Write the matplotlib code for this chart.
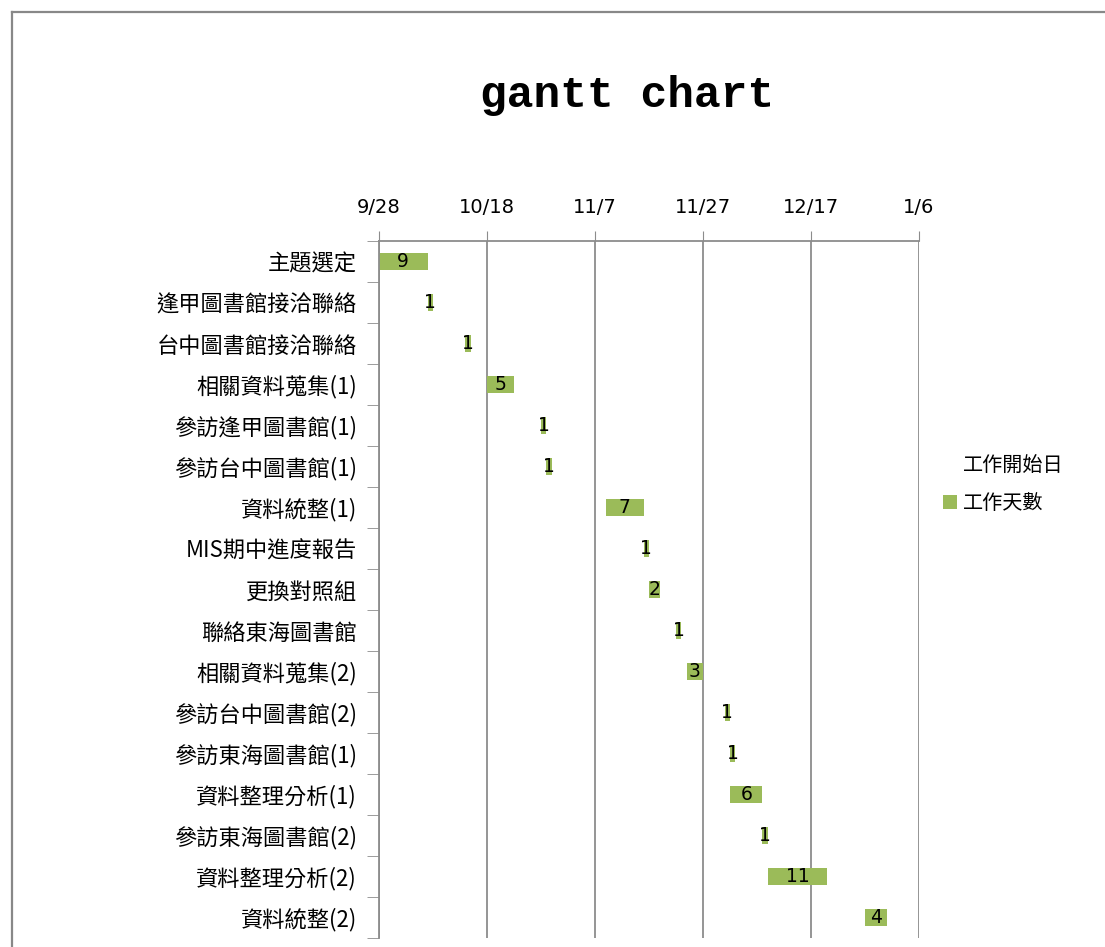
import datetime
import matplotlib
matplotlib.use('Agg')
import matplotlib.pyplot as plt
import matplotlib.dates as mdates
from matplotlib.patches import Patch
from matplotlib.lines import Line2D

plt.rcParams['font.family'] = ['Noto Sans CJK TC', 'DejaVu Sans']

# data
tasks = ['主題選定', '逢甲圖書館接洽聯絡', '台中圖書館接洽聯絡', '相關資料蒐集(1)',
         '參訪逢甲圖書館(1)', '參訪台中圖書館(1)', '資料統整(1)', 'MIS期中進度報告',
         '更換對照組', '聯絡東海圖書館', '相關資料蒐集(2)', '參訪台中圖書館(2)',
         '參訪東海圖書館(1)', '資料整理分析(1)', '參訪東海圖書館(2)', '資料整理分析(2)',
         '資料統整(2)']
start_days = ['2010-09-28', '2010-10-07', '2010-10-14', '2010-10-18',
              '2010-10-28', '2010-10-29', '2010-11-09', '2010-11-16',
              '2010-11-17', '2010-11-22', '2010-11-24', '2010-12-01',
              '2010-12-02', '2010-12-02', '2010-12-08', '2010-12-09',
              '2010-12-27']
work_days = [9, 1, 1, 5, 1, 1, 7, 1, 2, 1, 3, 1, 1, 6, 1, 11, 4]
tick_days = ['2010-09-28', '2010-10-18', '2010-11-07', '2010-11-27',
             '2010-12-17', '2011-01-06']

green = '#9bbb59'
gridc = '#8c8c8c'

starts = [mdates.date2num(datetime.date.fromisoformat(d)) for d in start_days]
ticks = [mdates.date2num(datetime.date.fromisoformat(d)) for d in tick_days]

fig = plt.figure(figsize=(11.05, 9.47), dpi=100)
ax = fig.add_axes([379 / 1105, 1 - 938 / 947, (919 - 379) / 1105, (938 - 241) / 947])

y = list(range(len(tasks)))
ax.barh(y, starts, height=0.4, color='none')   # invisible start-date series
bars = ax.barh(y, work_days, left=starts, height=0.4, color=green)
ax.bar_label(bars, label_type='center', fontsize=13.5, color='black', family='DejaVu Sans')

ax.set_xlim(ticks[0], ticks[-1])
ax.set_ylim(len(tasks) - 0.5, -0.5)
ax.xaxis.tick_top()
ax.set_xticks(ticks)
ax.set_xticklabels([f'{int(d[5:7])}/{int(d[8:])}' for d in tick_days],
                   fontsize=14, family='DejaVu Sans')
ax.tick_params(axis='x', direction='out', length=7, color=gridc, pad=10)

ax.set_yticks(y)
ax.set_yticklabels(tasks, fontsize=16)
ax.set_yticks([i - 0.5 for i in range(len(tasks) + 1)], minor=True)
ax.tick_params(axis='y', which='major', length=0, pad=16)
ax.tick_params(axis='y', which='minor', direction='out', length=9, color=gridc)

ax.grid(axis='x', color=gridc, linewidth=1.3)
ax.set_axisbelow(True)
for s in ['right', 'bottom']:
    ax.spines[s].set_visible(False)
for s in ['top', 'left']:
    ax.spines[s].set_color(gridc)
    ax.spines[s].set_linewidth(1.3)

fig.text(627 / 1105, 1 - 95 / 947, 'gantt chart', ha='center', va='center',
         fontsize=32, fontweight='bold', family='Liberation Mono')

handles = [Patch(facecolor='none', edgecolor='none'), Patch(facecolor=green)]
fig.legend(handles, ['工作開始日', '工作天數'], loc='upper left',
           bbox_to_anchor=(925 / 1105, 1 - 437 / 947), frameon=False, fontsize=14.5,
           handlelength=0.7, handleheight=0.7, handletextpad=0.3, labelspacing=0.85)

# outer chart frame
fig.add_artist(Line2D([12 / 1105, 1], [1 - 12 / 947, 1 - 12 / 947], color='#888888', lw=1.6))
fig.add_artist(Line2D([12 / 1105, 12 / 1105], [0, 1 - 12 / 947], color='#888888', lw=1.6))

fig.savefig('out.png', dpi=100)
